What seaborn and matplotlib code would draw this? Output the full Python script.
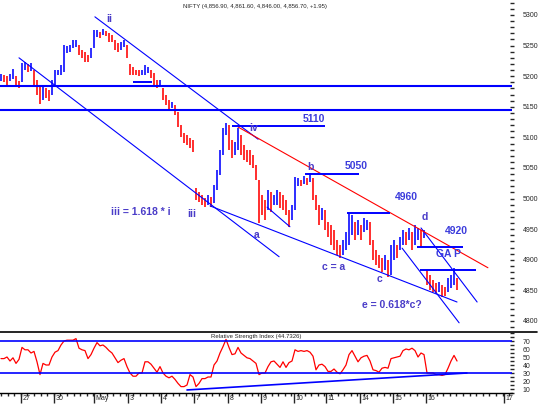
import numpy as np
import pandas as pd
import matplotlib
matplotlib.use('Agg')
import matplotlib.pyplot as plt
import matplotlib.transforms as mtransforms
from matplotlib.lines import Line2D
from matplotlib.ticker import MultipleLocator
import seaborn as sns

# --- price bars (one entry per intraday bar) ---
bar_high = [5204, 5202, 5200, 5203, 5212, 5200, 5192, 5222, 5223, 5220,
            5221, 5210, 5194, 5182, 5186, 5181, 5177, 5194, 5210, 5210,
            5218, 5251, 5249, 5251, 5259, 5259, 5251, 5243, 5240, 5235,
            5246, 5276, 5276, 5272, 5277, 5274, 5271, 5267, 5259, 5254,
            5256, 5259, 5251, 5220, 5215, 5210, 5210, 5210, 5218, 5215,
            5210, 5205, 5194, 5194, 5181, 5169, 5161, 5158, 5153, 5141,
            5120, 5107, 5104, 5099, 5096, 5017, 5011, 5006, 5001, 5006,
            5003, 5022, 5047, 5079, 5116, 5124, 5120, 5096, 5093, 5116,
            5104, 5088, 5079, 5079, 5071, 5055, 5030, 5006, 4998, 5014,
            5011, 5006, 5014, 5011, 5006, 4998, 4981, 4990, 5035, 5034,
            5030, 5037, 5034, 5042, 5034, 5006, 4990, 4985, 4981, 4962,
            4957, 4949, 4932, 4924, 4932, 4946, 4976, 4973, 4962, 4965,
            4957, 4968, 4965, 4962, 4932, 4916, 4908, 4903, 4908, 4900,
            4924, 4932, 4924, 4937, 4949, 4946, 4952, 4946, 4957, 4952,
            4949, 4949, 4883, 4875, 4867, 4862, 4864, 4859, 4856, 4870,
            4875, 4886, 4870]
bar_low = [5192, 5190, 5186, 5192, 5196, 5184, 5180, 5190, 5210, 5207,
           5208, 5186, 5169, 5154, 5161, 5164, 5159, 5169, 5186, 5202,
           5202, 5207, 5238, 5240, 5246, 5248, 5235, 5230, 5223, 5223,
           5230, 5246, 5264, 5262, 5267, 5266, 5256, 5256, 5243, 5240,
           5243, 5248, 5230, 5202, 5202, 5202, 5200, 5202, 5202, 5205,
           5197, 5186, 5181, 5186, 5161, 5153, 5145, 5148, 5137, 5117,
           5101, 5091, 5088, 5083, 5076, 4998, 4994, 4990, 4986, 4990,
           4986, 4993, 5014, 5039, 5071, 5104, 5079, 5066, 5071, 5079,
           5071, 5063, 5060, 5055, 5050, 5030, 4960, 4973, 4965, 4981,
           4978, 4990, 4990, 4984, 4981, 4973, 4954, 4965, 4981, 5021,
           5021, 5024, 5022, 5027, 4998, 4981, 4957, 4965, 4949, 4937,
           4924, 4916, 4908, 4903, 4908, 4916, 4924, 4941, 4932, 4941,
           4932, 4946, 4949, 4924, 4900, 4892, 4886, 4880, 4883, 4872,
           4875, 4900, 4903, 4916, 4924, 4924, 4932, 4916, 4924, 4932,
           4921, 4936, 4859, 4851, 4848, 4846, 4848, 4839, 4841, 4848,
           4854, 4859, 4851]
rsi_values = [48, 48, 50, 45, 49, 42, 47, 62, 59, 59,
              55, 57, 44, 28, 42, 40, 40, 50, 56, 58,
              65, 70, 71, 71, 71, 73, 61, 59, 58, 48,
              53, 61, 68, 64, 65, 62, 58, 55, 49, 43,
              46, 48, 38, 30, 26, 26, 30, 30, 44, 44,
              41, 36, 31, 38, 30, 26, 24, 26, 22, 17,
              13, 13, 15, 28, 25, 13, 17, 23, 23, 25,
              25, 40, 45, 55, 63, 72, 62, 53, 54, 62,
              55, 52, 49, 48, 45, 42, 28, 30, 30, 38,
              44, 45, 41, 37, 44, 37, 43, 45, 59, 57,
              58, 57, 58, 56, 51, 34, 40, 41, 38, 32,
              32, 35, 31, 29, 34, 40, 53, 58, 51, 44,
              49, 51, 52, 45, 34, 33, 31, 36, 37, 36,
              48, 49, 50, 51, 58, 60, 59, 61, 58, 50,
              55, 53, 30, 30, 30, 28, 28, 27, 28, 36,
              45, 52, 45]

day_ticks = [6.7, 17.7, 31.0, 42.3, 53.3, 64.3, 75.7, 86.7, 97.7, 108.3,
             119.7, 130.7, 141.7, 167.7]
day_labels = ['27', '30', 'May', '3', '4', '7', '8', '9', '10', '11',
              '14', '15', '16', '17']

# --- annotations (bar index, price) ---
support_levels = [5184, 5145]
trendlines = [((31.3, 5297), (85.7, 5097)),
              ((6.0, 5230), (92.7, 4905)),
              ((69.7, 4988), (152.0, 4831)),
              ((88.7, 4986), (96.3, 4954)),
              ((133.7, 4919), (152.7, 4797)),
              ((140.0, 4952), (158.7, 4831))]
red_trend = ((79.0, 5117), (162.3, 4887))
level_segments = [(5191, 44.0, 50.3), (5119, 77.0, 108.0), (5040, 101.3, 119.3),
                  (4976, 115.3, 129.7), (4921, 138.7, 154.0), (4883, 139.7, 158.3)]
level_texts = [('5110', 104.3, 5130), ('5050', 118.3, 5053), ('4960', 135.0, 5003),
               ('4920', 151.7, 4947), ('GA P', 149.3, 4910)]
wave_texts = [('ii', 36.0, 5293), ('iii', 63.7, 4975), ('iii = 1.618 * i', 46.7, 4978),
              ('a', 85.3, 4941), ('iv', 84.3, 5116), ('b', 103.0, 5052),
              ('d', 141.3, 4970), ('c = a', 111.0, 4888), ('c', 126.0, 4869),
              ('e = 0.618*c?', 130.3, 4826)]
rsi_levels = [70, 30]
rsi_trend = ((62.0, 8.8), (155.3, 30.0))

title = 'NIFTY (4,856.90, 4,861.60, 4,846.00, 4,856.70, +1.95)'
rsi_title = 'Relative Strength Index (44.7326)'

BLUE = '#0000ff'
RED = '#ff0000'
TXT = '#3c3cdc'

sns.set_style('white')
plt.rcParams['font.family'] = ['Liberation Sans', 'DejaVu Sans']

df = pd.DataFrame({'bar': np.arange(len(bar_high)), 'high': bar_high,
                   'low': bar_low, 'rsi': rsi_values})
mid = (df['high'] + df['low']) / 2
df['up'] = mid.diff().fillna(1) >= 0

fig = plt.figure(figsize=(5.44, 4.15), dpi=100)
ax = fig.add_axes([0, 0.2, 0.9412, 0.8])
ax2 = fig.add_axes([0, 0.053, 0.9412, 0.147], sharex=ax)

# price bars
ax.vlines(df['bar'], df['low'], df['high'],
          colors=np.where(df['up'], BLUE, RED), lw=1.15)

for lvl in support_levels:
    ax.axhline(lvl, color=BLUE, lw=1.5)
for (x0, y0), (x1, y1) in trendlines:
    ax.plot([x0, x1], [y0, y1], color=BLUE, lw=0.8)
ax.plot([red_trend[0][0], red_trend[1][0]], [red_trend[0][1], red_trend[1][1]],
        color=RED, lw=0.8)
for y, x0, x1 in level_segments:
    ax.hlines(y, x0, x1, color=BLUE, lw=1.4)
for s, x, y in level_texts:
    ax.text(x, y, s, color=TXT, fontsize=7.5, fontweight='bold', ha='center', va='center')
for s, x, y in wave_texts:
    ax.text(x, y, s, color='#4a3cc8', fontsize=7.5, fontweight='bold', ha='center', va='center')

ax.set_xlim(-0.33, 170.33)
ax.set_ylim(4782, 5324.5)
ax.yaxis.tick_right()
ax.set_yticks(range(4800, 5301, 50))
ax.yaxis.set_minor_locator(MultipleLocator(10))
ax.tick_params(axis='y', which='both', direction='inout', length=3, width=1,
               pad=6, labelsize=5, right=True, left=False)
ax.tick_params(axis='x', which='both', bottom=False, labelbottom=False)
for sp in ax.spines.values():
    sp.set_visible(False)
ax.text(0.337, 0.985, title, transform=fig.transFigure, fontsize=4.3, ha='left', va='center')

# RSI panel
sns.lineplot(data=df, x='bar', y='rsi', ax=ax2, color=RED, lw=0.9)
for lvl in rsi_levels:
    ax2.axhline(lvl, color=BLUE, lw=1.2)
ax2.plot([rsi_trend[0][0], rsi_trend[1][0]], [rsi_trend[0][1], rsi_trend[1][1]],
         color=BLUE, lw=1.2)
ax2.set_ylim(5, 81.25)
ax2.yaxis.tick_right()
ax2.set_yticks(range(10, 71, 10))
ax2.yaxis.set_minor_locator(MultipleLocator(5))
ax2.tick_params(axis='y', which='both', direction='inout', length=3, width=1,
                pad=6, labelsize=5, right=True, left=False)
ax2.set_xlabel('')
ax2.set_ylabel('')
ax2.set_xticks(day_ticks)
ax2.set_xticklabels([])
ax2.xaxis.set_minor_locator(MultipleLocator(2.2))
ax2.tick_params(axis='x', which='major', direction='out', length=7, width=1, bottom=True)
ax2.tick_params(axis='x', which='minor', direction='out', length=2.5, width=1, bottom=True)
for side in ['top', 'left', 'right']:
    ax2.spines[side].set_visible(False)
ax2.spines['bottom'].set_color('black')
ax2.spines['bottom'].set_linewidth(1)
trans = mtransforms.blended_transform_factory(ax2.transData, ax2.transAxes)
for x, lab in zip(day_ticks, day_labels):
    ax2.text(x + 0.6, -0.09, lab, transform=trans, fontsize=5, ha='left', va='center')
ax2.text(0.388, 1 - 336 / 415, rsi_title, transform=fig.transFigure, fontsize=4.3,
         ha='left', va='center')

fig.add_artist(Line2D([0, 537 / 544], [0.2, 0.2], color='black', lw=1.2))

fig.savefig('out.png', dpi=100)
